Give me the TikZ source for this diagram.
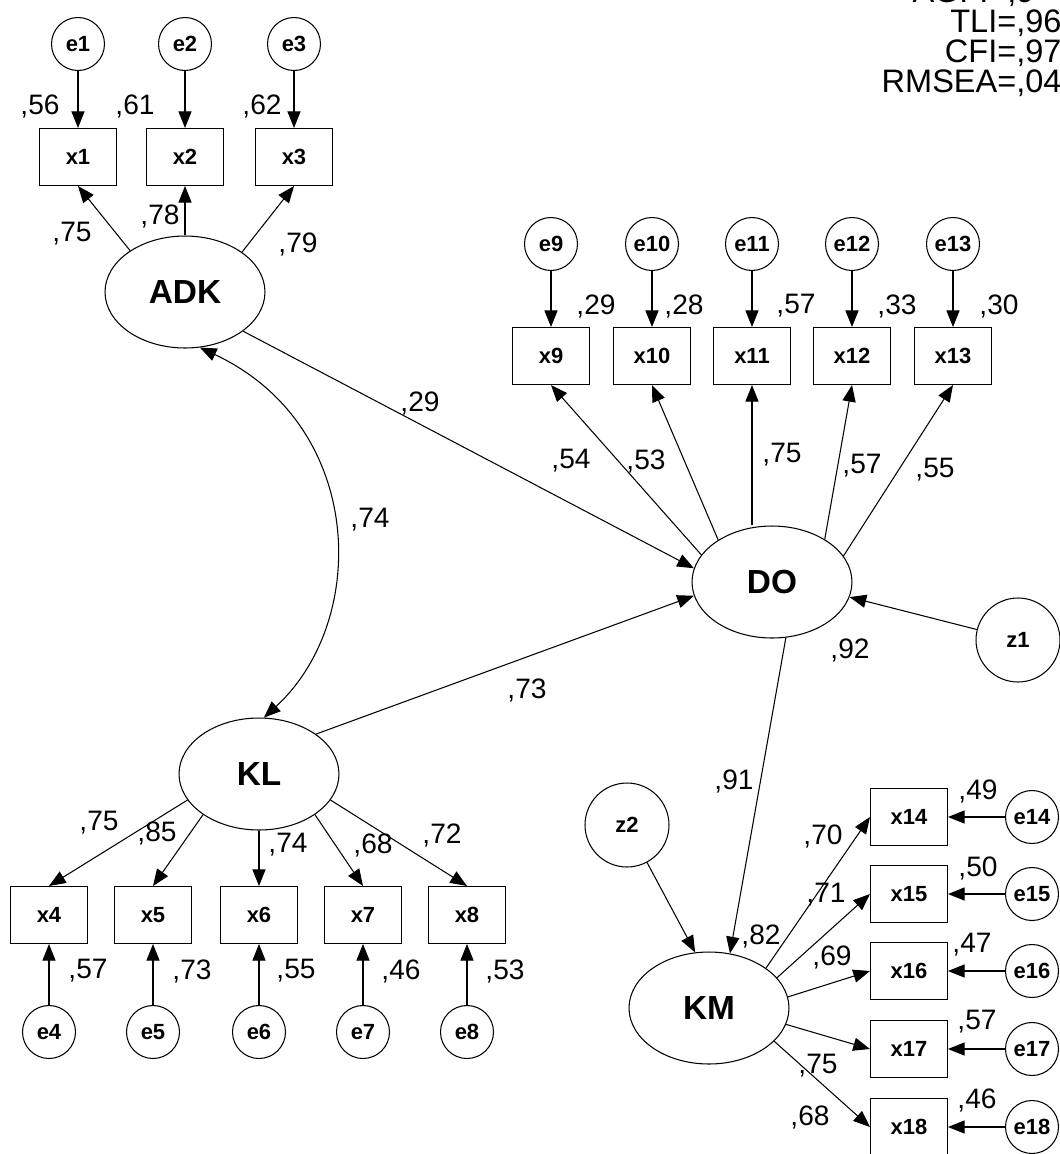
\documentclass[tikz,border=0pt]{standalone}
\usepackage{fontspec}
\setmainfont{Liberation Sans}
\usetikzlibrary{shapes.geometric,arrows.meta}
\begin{document}
\begin{tikzpicture}[x=0.02cm,y=-0.02cm,line width=0.6pt,
  obs/.style={draw, rectangle, minimum width=1.54cm, minimum height=1.14cm, inner sep=0pt, font=\bfseries\fontsize{12.5}{14}\selectfont},
  err/.style={draw, circle, minimum size=1.06cm, inner sep=0pt, font=\bfseries\fontsize{12.5}{14}\selectfont},
  dist/.style={draw, circle, minimum size=1.68cm, inner sep=0pt, font=\bfseries\fontsize{12.5}{14}\selectfont},
  lat/.style={draw, ellipse, minimum width=3.2cm, minimum height=2.24cm, inner sep=0pt, font=\bfseries\fontsize{19}{22}\selectfont},
  val/.style={inner sep=0pt, font=\fontsize{16}{18}\selectfont},
  fitline/.style={anchor=base east, inner sep=0pt, font=\fontsize{18.5}{20}\selectfont},
  arr/.style={-{Triangle[length=9.5pt,width=7.5pt]}},
  dbl/.style={{Triangle[length=9.5pt,width=7.5pt]}-{Triangle[length=9.5pt,width=7.5pt]}}
]
\useasboundingbox (0,0) rectangle (1060,1154);
\fill[white] (0,0) rectangle (1060,1154);

% fit indices (the first line is cut off by the top edge, as in the reference)
\begin{scope}
\clip (0,0) rectangle (1060,1154);
\node[fitline] (fagfi) at (1035,2) {AGFI=,9};
\node[fitline] (ftli) at (1062,32) {TLI=,96};
\node[fitline] (fcfi) at (1062,62) {CFI=,97};
\node[fitline] (frmsea) at (1062,92) {RMSEA=,04};
\end{scope}

% ADK block
\node[err] (e1) at (78,44) {e1};
\node[err] (e2) at (185,44) {e2};
\node[err] (e3) at (294,44) {e3};
\node[obs] (x1) at (78,157) {x1};
\node[obs] (x2) at (185,157) {x2};
\node[obs] (x3) at (294,157) {x3};
\node[lat] (ADK) at (185,292) {ADK};
\draw[arr] (e1) -- (x1);
\draw[arr] (e2) -- (x2);
\draw[arr] (e3) -- (x3);
\draw[arr] (ADK.143) -- (x1.south);
\draw[arr] (ADK.north) -- (x2.south);
\draw[arr] (ADK.35) -- (x3.south);
\node[val] (l56) at (40,106) {,56};
\node[val] (l61) at (135,106) {,61};
\node[val] (l62) at (262,106) {,62};
\node[val] (l75a) at (72,234) {,75};
\node[val] (l78) at (160,216) {,78};
\node[val] (l79) at (298,244) {,79};

% DO block
\node[lat] (DO) at (772,582) {DO};
\foreach \i/\xx in {9/551,10/652,11/752,12/852,13/953}{
  \node[err] (e\i) at (\xx,244) {e\i};
  \node[obs] (x\i) at (\xx,356) {x\i};
  \draw[arr] (e\i) -- (x\i);
}
\draw[arr] (DO.159) -- (x9.south);
\draw[arr] (DO.142) -- (x10.south);
\draw[arr] (DO.north -| x11.south) -- (x11.south);
\draw[arr] (DO.39) -- (x12.south);
\draw[arr] (DO.20) -- (x13.south);
\node[val] (l29b) at (596,306) {,29};
\node[val] (l28) at (684,306) {,28};
\node[val] (l57b) at (796,306) {,57};
\node[val] (l33) at (897,306) {,33};
\node[val] (l30) at (999,306) {,30};
\node[val] (l54) at (571,461) {,54};
\node[val] (l53b) at (646,461) {,53};
\node[val] (l75b) at (782,455) {,75};
\node[val] (l57c) at (862,466) {,57};
\node[val] (l55b) at (935,470) {,55};
\node[dist] (z1) at (1018,640) {z1};
\draw[arr] (z1) -- (DO.-11);
\node[val] (l92) at (850,650) {,92};

% KL block
\node[lat] (KL) at (259,774) {KL};
\foreach \i/\xx in {4/49,5/153,6/259,7/363,8/467}{
  \node[obs] (x\i) at (\xx,915) {x\i};
  \node[err] (e\i) at (\xx,1032) {e\i};
  \draw[arr] (e\i) -- (x\i);
}
\draw[arr] (KL.200) -- (x4.north);
\draw[arr] (KL.216) -- (x5.north);
\draw[arr] (KL.south) -- (x6.north);
\draw[arr] (KL.-36) -- (x7.north);
\draw[arr] (KL.-20) -- (x8.north);
\node[val] (l75c) at (99,823) {,75};
\node[val] (l85) at (157,833) {,85};
\node[val] (l74b) at (288,845) {,74};
\node[val] (l68b) at (373,845) {,68};
\node[val] (l72) at (442,835) {,72};
\node[val] (l57d) at (88,971) {,57};
\node[val] (l73b) at (192,971) {,73};
\node[val] (l55c) at (296,971) {,55};
\node[val] (l46b) at (401,971) {,46};
\node[val] (l53c) at (505,971) {,53};

% structural paths
\draw[dbl] (ADK.-75) .. controls (365,425) and (370,620) .. (KL.85);
\draw[arr] (ADK.-34) -- (DO.170);
\draw[arr] (KL.35) -- (DO.190);
\node[val] (l74a) at (370,520) {,74};
\node[val] (l29a) at (420,403) {,29};
\node[val] (l73a) at (527,690) {,73};

% KM block
\node[lat] (KM) at (709,1008) {KM};
\node[dist] (z2) at (627,825) {z2};
\draw[arr] (z2) -- (KM.104);
\draw[arr] (DO.-76) -- (KM.69);
\node[val] (l91) at (734,781) {,91};
\node[val] (l82) at (761,936) {,82};
\foreach \i/\yy in {14/817,15/894,16/971,17/1049,18/1127}{
  \node[obs] (x\i) at (909,\yy) {x\i};
  \node[err] (e\i) at (1032,\yy) {e\i};
  \draw[arr] (e\i) -- (x\i);
}
\draw[arr] (KM.35) -- (x14.west);
\draw[arr] (KM.24) -- (x15.west);
\draw[arr] (KM.8) -- (x16.west);
\draw[arr] (KM.-12) -- (x17.west);
\draw[arr] (KM.-27) -- (x18.west);
\node[val] (l49) at (978,791) {,49};
\node[val] (l50) at (978,868) {,50};
\node[val] (l47) at (972,945) {,47};
\node[val] (l57e) at (977,1022) {,57};
\node[val] (l46c) at (977,1100) {,46};
\node[val] (l70) at (823,836) {,70};
\node[val] (l71) at (826,895) {,71};
\node[val] (l69) at (832,957) {,69};
\node[val] (l75d) at (818,1066) {,75};
\node[val] (l68c) at (810,1117) {,68};
\end{tikzpicture}
\end{document}
